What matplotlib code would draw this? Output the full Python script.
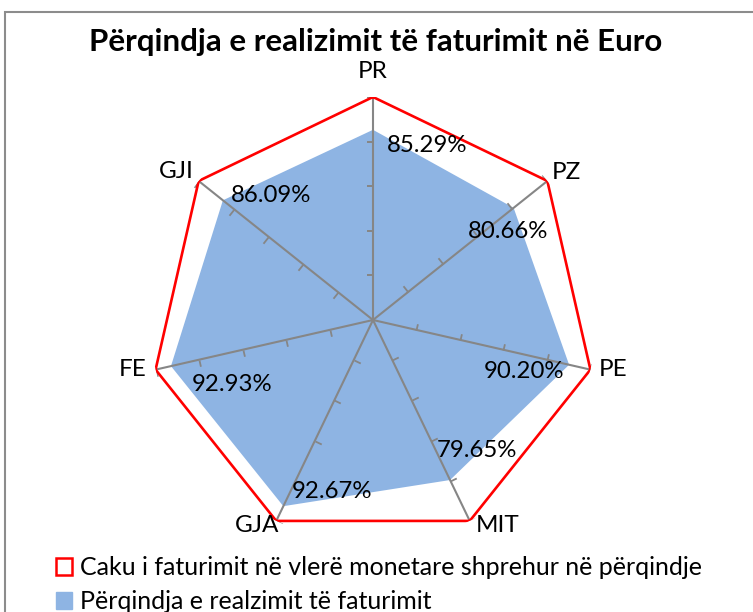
import numpy as np
import matplotlib
matplotlib.use("Agg")
import matplotlib.pyplot as plt
from matplotlib.patches import Patch, Rectangle
from matplotlib.path import Path
from matplotlib.markers import MarkerStyle

categories = ["PR", "PZ", "PE", "MIT", "GJA", "FE", "GJI"]
target = [100, 100, 100, 100, 100, 100, 100]
realized = [85.29, 80.66, 90.20, 79.65, 92.67, 92.93, 86.09]
value_labels = ["85.29%", "80.66%", "90.20%", "79.65%", "92.67%", "92.93%", "86.09%"]
tick_values = [20, 40, 60, 80, 100]
title = "Përqindja e realizimit të faturimit në Euro"
legend_labels = ["Caku i faturimit në vlerë monetare shprehur në përqindje",
                 "Përqindja e realzimit të faturimit"]

plt.rcParams['font.family'] = ['Lato', 'DejaVu Sans']

W, H = 753, 612
fig = plt.figure(figsize=(W / 100, H / 100), dpi=100)
cx, cy, R = 373, 320, 223
ax = fig.add_axes([(cx - R) / W, (H - cy - R) / H, 2 * R / W, 2 * R / H], projection='polar')
ax.set_theta_offset(np.pi / 2)
ax.set_theta_direction(-1)
ax.set_ylim(0, 100)
ax.axis('off')

n = len(categories)
theta = np.arange(n) * 2 * np.pi / n
th_closed = np.append(theta, theta[0])

blue = '#8EB4E3'
ax.fill(th_closed, np.append(realized, realized[0]), color=blue, zorder=1, lw=0)

# spokes and tick marks
for t in theta:
    ax.plot([t, t], [0, 100], color='#868686', lw=1.5, zorder=2, solid_capstyle='butt')
    mk = MarkerStyle(Path([(0, 0), (-np.cos(t), np.sin(t))]))
    ax.plot([t] * len(tick_values), tick_values, linestyle='none', marker=mk,
            markersize=9, markeredgecolor='#868686', markeredgewidth=1.3, zorder=2)

ax.plot(th_closed, np.append(target, target[0]), color='#FF0000', lw=1.9, zorder=3,
        solid_joinstyle='miter')

# category labels (offsets in pixels from the vertex)
cat_off = [(0, 25), (19, 8), (23, 0), (28, -5), (-19, -5), (-23, 0), (-22, 9)]
for t, c, (dx, dy) in zip(theta, categories, cat_off):
    ax.annotate(c, (t, 100), xytext=(dx * 0.72, dy * 0.72), textcoords='offset points',
                ha='center', va='center', fontsize=17.5, color='black', annotation_clip=False)

# data labels
val_off = [(54, -16), (-6, -24), (-45, -7), (27, 30), (49, 15), (61, -18), (48, 5)]
for t, v, s, (dx, dy) in zip(theta, realized, value_labels, val_off):
    ax.annotate(s, (t, v), xytext=(dx * 0.72, dy * 0.72), textcoords='offset points',
                ha='center', va='center', fontsize=17.3, color='black', zorder=5,
                annotation_clip=False)

fig.text(376 / W, 1 - 42 / H, title, ha='center', va='center', fontsize=22.5,
         fontweight='bold', color='black')

handles = [Patch(facecolor='white', edgecolor='#FF0000', lw=1.8),
           Patch(facecolor=blue, edgecolor=blue)]
fig.legend(handles, legend_labels, loc='upper left', bbox_to_anchor=(56 / W, 1 - 556 / H),
           frameon=False, fontsize=18, handlelength=0.65, handleheight=0.65,
           handletextpad=0.3, labelspacing=0.45, borderaxespad=0, borderpad=0)

fig.patches.append(Rectangle((5 / W, -0.1), 1.1, 1 - 12 / H + 0.1, transform=fig.transFigure,
                             fill=False, edgecolor='#8C8C8C', lw=1.5, zorder=0))

fig.savefig('out.png', dpi=100)
